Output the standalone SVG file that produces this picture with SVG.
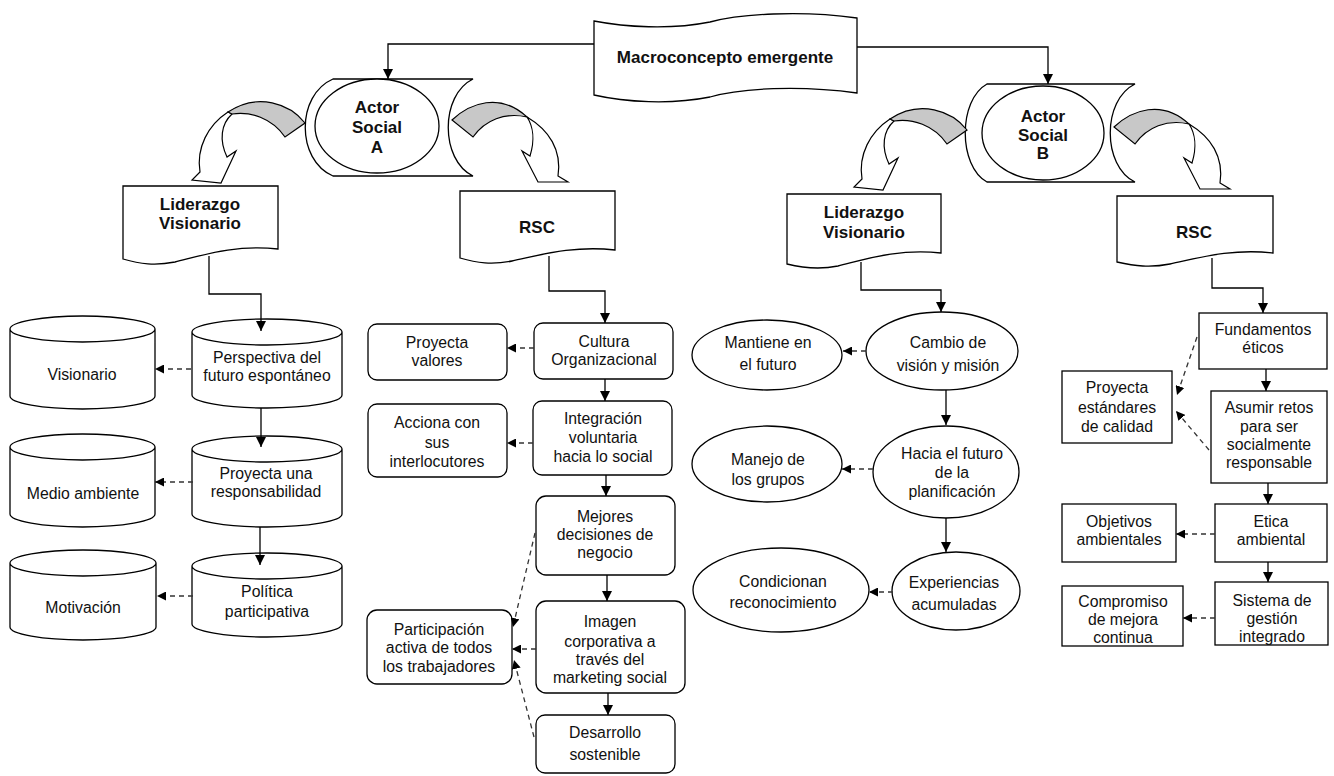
<svg xmlns="http://www.w3.org/2000/svg" width="1334" height="776" viewBox="0 0 1334 776">
<defs>
<style>
.s{fill:#fff;stroke:#000;stroke-width:1.3}
.g{fill:#c8c8c8;stroke:#000;stroke-width:1.2}
.w{fill:#fff;stroke:#000;stroke-width:1.2}
.t{font-family:"Liberation Sans",Arial,sans-serif;font-size:15.8px;fill:#111;text-anchor:middle}
.b{font-weight:bold;font-size:17px}
.c{fill:none;stroke:#000;stroke-width:1.3}
.d{fill:none;stroke:#333;stroke-width:1.3;stroke-dasharray:5,4}
</style>
<marker id="a" viewBox="0 0 10 10" refX="10" refY="5" markerWidth="10" markerHeight="10" markerUnits="userSpaceOnUse" orient="auto"><path d="M0,0 L10,5 L0,10 z" fill="#000"/></marker>
<marker id="ad" viewBox="0 0 10 10" refX="10" refY="5" markerWidth="9" markerHeight="9" markerUnits="userSpaceOnUse" orient="auto"><path d="M0,0 L10,5 L0,10 z" fill="#000"/></marker>
<g id="curvL">
<path class="w" d="M228,112 C208,125 196,148 200,172 L192,180 L221,183 L236,151 L227,157 C219,140 221,124 232,114 Z"/>
<path class="g" d="M305,123 C290,104 258,92 228,112 L232,114 C250,111 272,118 285,137 Z"/>
</g>
<g id="curvR">
<path class="w" d="M527,117 C549,130 562,150 558,176 L568,182 L538,182 L522,151 L530,156 C535,140 533,126 527,117 Z"/>
<path class="g" d="M452,120 C470,103 500,92 527,117 C505,112 485,120 473,137 Z"/>
</g>
</defs>
<rect width="1334" height="776" fill="#fff"/>

<g id="macro">
<path class="s" d="M594,21 C625,27 670,30 710,22 C740,14 800,10 857,18 V93 C800,85 740,88 710,97 C670,105 625,102 594,95 Z"/>
<text class="t b" x="725" y="63">Macroconcepto emergente</text>
</g>

<g id="actorA">
<path class="s" d="M333,79 H473 C440,95 440,160 473,176 H333 C296,160 296,95 333,79 Z"/>
<ellipse class="s" cx="377" cy="126" rx="62" ry="47"/>
<text class="t b" x="377" y="113">Actor</text>
<text class="t b" x="377" y="133">Social</text>
<text class="t b" x="377" y="153">A</text>
</g>

<g id="actorB">
<path class="s" d="M987,84 H1135 C1102,100 1102,166 1135,182 H987 C958,166 958,100 987,84 Z"/>
<ellipse class="s" cx="1043" cy="133" rx="61" ry="47"/>
<text class="t b" x="1043" y="122">Actor</text>
<text class="t b" x="1043" y="141">Social</text>
<text class="t b" x="1043" y="159">B</text>
</g>

<g id="lidA">
<path class="s" d="M123,186 H278 V249 C235,244 200,256 175,262 C155,266 140,264 123,259 Z"/>
<text class="t b" x="200" y="210">Liderazgo</text>
<text class="t b" x="200" y="229">Visionario</text>
</g>
<g id="rscA">
<path class="s" d="M460,191 H615 V250 C572,245 537,256 512,261 C492,265 477,263 460,258 Z"/>
<text class="t b" x="537" y="233">RSC</text>
</g>
<g id="lidB">
<path class="s" d="M787,194 H941 V253 C898,248 863,260 838,266 C818,270 803,268 787,264 Z"/>
<text class="t b" x="864" y="218">Liderazgo</text>
<text class="t b" x="864" y="238">Visionario</text>
</g>
<g id="rscB">
<path class="s" d="M1117,196 H1273 V253 C1230,248 1195,259 1170,264 C1150,268 1135,266 1117,262 Z"/>
<text class="t b" x="1194" y="238">RSC</text>
</g>

<g id="visionario">
<path class="s" d="M10,329 A72.5,13 0 0 1 155,329 V396 A72.5,13 0 0 1 10,396 Z M10,329 A72.5,13 0 0 0 155,329"/>
<text class="t" x="82" y="380">Visionario</text>
</g>
<g id="perspectiva">
<path class="s" d="M192,332 A75,13 0 0 1 342,332 V395 A75,13 0 0 1 192,395 Z M192,332 A75,13 0 0 0 342,332"/>
<text class="t" x="267" y="363">Perspectiva del</text>
<text class="t" x="267" y="381">futuro espontáneo</text>
</g>
<g id="medio">
<path class="s" d="M10,447 A72.5,13 0 0 1 155,447 V514 A72.5,13 0 0 1 10,514 Z M10,447 A72.5,13 0 0 0 155,447"/>
<text class="t" x="83" y="499">Medio ambiente</text>
</g>
<g id="proyectaUna">
<path class="s" d="M192,449 A75,13 0 0 1 342,449 V514 A75,13 0 0 1 192,514 Z M192,449 A75,13 0 0 0 342,449"/>
<text class="t" x="266" y="479">Proyecta una</text>
<text class="t" x="266" y="497">responsabilidad</text>
</g>
<g id="motivacion">
<path class="s" d="M10,563 A73,13 0 0 1 156,563 V627 A73,13 0 0 1 10,627 Z M10,563 A73,13 0 0 0 156,563"/>
<text class="t" x="83" y="613">Motivación</text>
</g>
<g id="politica">
<path class="s" d="M192,566 A75,13 0 0 1 342,566 V624 A75,13 0 0 1 192,624 Z M192,566 A75,13 0 0 0 342,566"/>
<text class="t" x="267" y="597">Política</text>
<text class="t" x="267" y="617">participativa</text>
</g>

<g id="cultura">
<rect class="s" x="534" y="323" width="139" height="56" rx="9"/>
<text class="t" x="604" y="347">Cultura</text>
<text class="t" x="604" y="365">Organizacional</text>
</g>
<g id="proyectaValores">
<rect class="s" x="368" y="324" width="139" height="56" rx="9"/>
<text class="t" x="437" y="348">Proyecta</text>
<text class="t" x="437" y="366">valores</text>
</g>
<g id="integracion">
<rect class="s" x="533" y="401" width="139" height="74" rx="9"/>
<text class="t" x="603" y="424">Integración</text>
<text class="t" x="603" y="443">voluntaria</text>
<text class="t" x="603" y="462">hacia lo social</text>
</g>
<g id="acciona">
<rect class="s" x="368" y="404" width="139" height="73" rx="9"/>
<text class="t" x="437" y="428">Acciona con</text>
<text class="t" x="437" y="448">sus</text>
<text class="t" x="437" y="467">interlocutores</text>
</g>
<g id="mejores">
<rect class="s" x="536" y="496" width="139" height="79" rx="10"/>
<text class="t" x="605" y="522">Mejores</text>
<text class="t" x="605" y="540">decisiones de</text>
<text class="t" x="605" y="558">negocio</text>
</g>
<g id="imagen">
<rect class="s" x="536" y="601" width="149" height="92" rx="10"/>
<text class="t" x="610" y="627">Imagen</text>
<text class="t" x="610" y="647">corporativa a</text>
<text class="t" x="610" y="665">través del</text>
<text class="t" x="610" y="683">marketing social</text>
</g>
<g id="desarrollo">
<rect class="s" x="536" y="715" width="139" height="58" rx="9"/>
<text class="t" x="605" y="738">Desarrollo</text>
<text class="t" x="605" y="760">sostenible</text>
</g>
<g id="participacion">
<rect class="s" x="367" y="610" width="145" height="74" rx="10"/>
<text class="t" x="439" y="635">Participación</text>
<text class="t" x="439" y="653">activa de todos</text>
<text class="t" x="439" y="672">los trabajadores</text>
</g>

<g id="cambio">
<ellipse class="s" cx="942" cy="351" rx="76" ry="39"/>
<text class="t" x="948" y="348">Cambio de</text>
<text class="t" x="948" y="371">visión y misión</text>
</g>
<g id="mantiene">
<ellipse class="s" cx="767" cy="355" rx="75" ry="35"/>
<text class="t" x="768" y="348">Mantiene en</text>
<text class="t" x="768" y="370">el futuro</text>
</g>
<g id="hacia">
<ellipse class="s" cx="946" cy="472" rx="73" ry="46"/>
<text class="t" x="952" y="459">Hacia el futuro</text>
<text class="t" x="952" y="478">de la</text>
<text class="t" x="952" y="497">planificación</text>
</g>
<g id="manejo">
<ellipse class="s" cx="767" cy="464" rx="75" ry="38"/>
<text class="t" x="768" y="465">Manejo de</text>
<text class="t" x="768" y="485">los grupos</text>
</g>
<g id="experiencias">
<ellipse class="s" cx="956" cy="591" rx="64" ry="39"/>
<text class="t" x="954" y="588">Experiencias</text>
<text class="t" x="954" y="610">acumuladas</text>
</g>
<g id="condicionan">
<ellipse class="s" cx="781" cy="590" rx="88" ry="42"/>
<text class="t" x="783" y="587">Condicionan</text>
<text class="t" x="783" y="608">reconocimiento</text>
</g>

<g id="fundamentos">
<rect class="s" x="1199" y="313" width="128" height="56"/>
<text class="t" x="1263" y="335">Fundamentos</text>
<text class="t" x="1263" y="353">éticos</text>
</g>
<g id="asumir">
<rect class="s" x="1211" y="391" width="116" height="92"/>
<text class="t" x="1269" y="413">Asumir retos</text>
<text class="t" x="1269" y="432">para ser</text>
<text class="t" x="1269" y="450">socialmente</text>
<text class="t" x="1269" y="468">responsable</text>
</g>
<g id="proyectaEstandares">
<rect class="s" x="1062" y="371" width="110" height="72"/>
<text class="t" x="1117" y="393">Proyecta</text>
<text class="t" x="1117" y="413">estándares</text>
<text class="t" x="1117" y="432">de calidad</text>
</g>
<g id="etica">
<rect class="s" x="1215" y="504" width="112" height="58"/>
<text class="t" x="1271" y="527">Etica</text>
<text class="t" x="1271" y="545">ambiental</text>
</g>
<g id="objetivos">
<rect class="s" x="1062" y="504" width="114" height="58"/>
<text class="t" x="1119" y="527">Objetivos</text>
<text class="t" x="1119" y="545">ambientales</text>
</g>
<g id="sistema">
<rect class="s" x="1215" y="582" width="113" height="63"/>
<text class="t" x="1272" y="606">Sistema de</text>
<text class="t" x="1272" y="624">gestión</text>
<text class="t" x="1272" y="642">integrado</text>
</g>
<g id="compromiso">
<rect class="s" x="1062" y="586" width="121" height="60"/>
<text class="t" x="1123" y="607">Compromiso</text>
<text class="t" x="1123" y="625">de mejora</text>
<text class="t" x="1123" y="643">continua</text>
</g>

<g id="connectors">
<path class="c" d="M594,44 H388 V79" marker-end="url(#a)"/>
<path class="c" d="M857,47 H1048 V84" marker-end="url(#a)"/>
<path class="c" d="M209,256 V294 H261 V331" marker-end="url(#a)"/>
<path class="c" d="M261,408 V447" marker-end="url(#a)"/>
<path class="c" d="M260,527 V565" marker-end="url(#a)"/>
<path class="d" d="M191,369 H155" marker-end="url(#ad)"/>
<path class="d" d="M193,482 H155" marker-end="url(#ad)"/>
<path class="d" d="M193,596 H157" marker-end="url(#ad)"/>
<path class="c" d="M549,256 V291 H605 V323" marker-end="url(#a)"/>
<path class="c" d="M605,379 V401" marker-end="url(#a)"/>
<path class="c" d="M606,475 V496" marker-end="url(#a)"/>
<path class="c" d="M607,575 V601" marker-end="url(#a)"/>
<path class="c" d="M608,693 V715" marker-end="url(#a)"/>
<path class="d" d="M534,348 H507" marker-end="url(#ad)"/>
<path class="d" d="M533,443 H507" marker-end="url(#ad)"/>
<path class="d" d="M536,649 H512" marker-end="url(#ad)"/>
<path class="d" d="M535,533 L513,627" marker-end="url(#ad)"/>
<path class="d" d="M534,737 L514,660" marker-end="url(#ad)"/>
<path class="c" d="M861,262 V290 H941 V312" marker-end="url(#a)"/>
<path class="c" d="M946,390 V425" marker-end="url(#a)"/>
<path class="c" d="M946,518 V552" marker-end="url(#a)"/>
<path class="d" d="M866,351 H843" marker-end="url(#ad)"/>
<path class="d" d="M873,469 H842" marker-end="url(#ad)"/>
<path class="d" d="M893,592 H869" marker-end="url(#ad)"/>
<path class="c" d="M1212,258 V288 H1263 V313" marker-end="url(#a)"/>
<path class="c" d="M1266,369 V391" marker-end="url(#a)"/>
<path class="c" d="M1268,483 V504" marker-end="url(#a)"/>
<path class="c" d="M1268,562 V582" marker-end="url(#a)"/>
<path class="d" d="M1197,337 L1177,395" marker-end="url(#ad)"/>
<path class="d" d="M1209,450 L1176,411" marker-end="url(#ad)"/>
<path class="d" d="M1215,534 H1176" marker-end="url(#ad)"/>
<path class="d" d="M1215,618 H1183" marker-end="url(#ad)"/>
<use href="#curvL"/>
<use href="#curvR"/>
<use href="#curvL" transform="translate(662,7)"/>
<use href="#curvR" transform="translate(662,7)"/>
</g>
</svg>
